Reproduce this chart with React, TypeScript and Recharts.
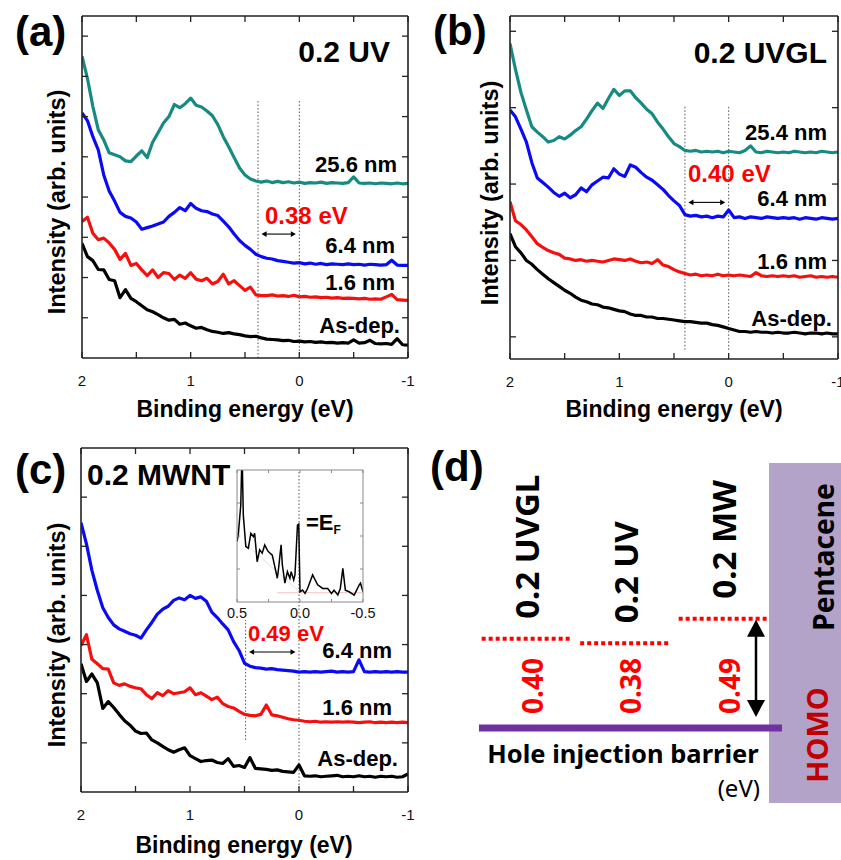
import React from 'react';
import {
  LineChart,
  Line,
  XAxis,
  YAxis,
  ReferenceLine,
  ComposedChart,
  ReferenceArea,
  ReferenceDot,
} from 'recharts';

const FONT = "'Liberation Sans', Arial, Helvetica, sans-serif";
const KFONT = "'Noto Sans', 'Noto Sans CJK KR', sans-serif";

// Binding energy grid (eV)
const energies = [
  2.0, 1.95, 1.9, 1.85, 1.8, 1.75, 1.7, 1.65, 1.6, 1.55,
  1.5, 1.45, 1.4, 1.35, 1.3, 1.25, 1.2, 1.15, 1.1, 1.05,
  1.0, 0.95, 0.9, 0.85, 0.8, 0.75, 0.7, 0.65, 0.6, 0.55,
  0.5, 0.45, 0.4, 0.35, 0.3, 0.25, 0.2, 0.15, 0.1, 0.05,
  0.0, -0.05, -0.1, -0.15, -0.2, -0.25, -0.3, -0.35, -0.4, -0.45,
  -0.5, -0.55, -0.6, -0.65, -0.7, -0.75, -0.8, -0.85, -0.9, -0.95,
  -1.0,
];

// (a) 0.2 UV
const uv256 = [
  7.5, 6.95, 6.25, 5.67, 5.42, 5.1, 5.05, 5.0, 4.9, 4.88,
  5.02, 5.15, 4.98, 5.36, 5.6, 5.84, 6.0, 6.3, 6.22, 6.32,
  6.46, 6.28, 6.24, 6.14, 6.02, 5.8, 5.5, 5.25, 4.98, 4.72,
  4.55, 4.45, 4.4, 4.37, 4.4, 4.36, 4.39, 4.36, 4.38, 4.35,
  4.37, 4.34, 4.36, 4.35, 4.37, 4.34, 4.36, 4.35, 4.34, 4.36,
  4.5, 4.35, 4.34, 4.35, 4.33, 4.35, 4.34, 4.33, 4.35, 4.33,
  4.34,
];
const uv64 = [
  6.09, 5.9, 5.5, 5.17, 4.55, 4.15, 3.9, 3.62, 3.52, 3.48,
  3.38, 3.2, 3.24, 3.28, 3.33, 3.38, 3.52, 3.62, 3.74, 3.66,
  3.84, 3.72, 3.66, 3.64, 3.58, 3.54, 3.4, 3.26, 3.08, 2.92,
  2.8, 2.7, 2.58, 2.52, 2.48, 2.46, 2.42, 2.4, 2.38, 2.36,
  2.37, 2.34, 2.36, 2.33, 2.35, 2.32, 2.34, 2.33, 2.32, 2.34,
  2.32, 2.33, 2.31, 2.33, 2.32, 2.31, 2.32, 2.43, 2.31, 2.3,
  2.3,
];
const uv16 = [
  3.39, 3.5, 3.1, 2.94, 2.98, 2.86, 2.7, 2.45, 2.6, 2.3,
  2.35, 2.19, 2.05, 2.19, 2.0, 2.12, 2.1, 1.95, 2.06, 1.98,
  2.12, 1.96, 1.92, 1.98, 1.84, 1.9, 2.08, 1.84, 1.92, 1.8,
  1.68, 1.76, 1.57, 1.55, 1.55, 1.57, 1.54, 1.55, 1.53, 1.56,
  1.52, 1.53, 1.51, 1.52, 1.5, 1.51, 1.49, 1.5, 1.48, 1.49,
  1.48, 1.47, 1.48, 1.46, 1.47, 1.46, 1.52, 1.58, 1.45, 1.44,
  1.43,
];
const uvAsDep = [
  2.85, 2.52, 2.42, 2.2, 2.19, 1.95, 1.92, 1.5, 1.7, 1.48,
  1.4, 1.3, 1.2, 1.15, 1.08, 1.0, 0.94, 0.96, 0.84, 0.87,
  0.8, 0.74, 0.76, 0.7, 0.66, 0.64, 0.61, 0.63, 0.6, 0.58,
  0.55, 0.53, 0.54, 0.5, 0.47, 0.46, 0.45, 0.43, 0.44, 0.41,
  0.42, 0.4, 0.41, 0.39, 0.4, 0.38, 0.39, 0.37, 0.38, 0.37,
  0.45, 0.37, 0.38, 0.44, 0.36, 0.35, 0.36, 0.34, 0.48, 0.33,
  0.32,
];

// (b) 0.2 UVGL
const uvgl254 = [
  4.84, 4.5, 4.2, 3.97, 3.75, 3.68, 3.62, 3.55, 3.57, 3.62,
  3.59, 3.64, 3.7, 3.75, 3.85, 3.96, 4.06, 3.99, 4.12, 4.24,
  4.16, 4.22, 4.22, 4.13, 4.06, 3.98, 3.92, 3.81, 3.72, 3.62,
  3.53, 3.49, 3.44, 3.43, 3.44, 3.42, 3.43, 3.42, 3.43, 3.41,
  3.43, 3.42, 3.41, 3.44, 3.5, 3.42, 3.41, 3.43, 3.42, 3.41,
  3.42, 3.41, 3.43, 3.42, 3.41, 3.42, 3.41, 3.43, 3.42, 3.41,
  3.42,
];
const uvgl64 = [
  3.97, 3.88, 3.72, 3.55, 3.28, 3.08, 3.02, 2.96, 2.89, 2.84,
  2.88, 2.82, 2.86, 2.95, 2.9, 2.99, 3.04, 3.09, 3.08, 3.2,
  3.13, 3.1, 3.25, 3.22, 3.15, 3.09, 3.05, 2.99, 2.93, 2.85,
  2.78, 2.72, 2.6, 2.58, 2.59, 2.57, 2.58, 2.56, 2.58, 2.57,
  2.66, 2.56, 2.57, 2.55, 2.57, 2.56, 2.55, 2.57, 2.56, 2.55,
  2.56, 2.55, 2.56, 2.54, 2.56, 2.55, 2.54, 2.56, 2.55, 2.54,
  2.55,
];
const uvgl16 = [
  2.77, 2.52, 2.47, 2.4, 2.31, 2.22, 2.17, 2.13, 2.1, 2.08,
  2.03, 2.02, 2.0, 2.01, 1.99, 2.0, 1.99, 1.98, 2.0, 2.02,
  2.01, 2.0, 2.02, 1.99, 1.97, 1.98, 1.96, 2.01, 1.94, 1.92,
  1.88, 1.85, 1.83, 1.81, 1.82, 1.8, 1.81, 1.8, 1.82, 1.8,
  1.81, 1.8, 1.81, 1.8, 1.79, 1.84, 1.8, 1.79, 1.8, 1.79,
  1.8, 1.79, 1.8, 1.78, 1.79, 1.8, 1.78, 1.79, 1.78, 1.79,
  1.78,
];
const uvglAsDep = [
  2.35, 2.18, 2.1, 2.0, 1.95, 1.88, 1.82, 1.76, 1.71, 1.66,
  1.61, 1.57, 1.52, 1.48, 1.46, 1.43, 1.42, 1.39, 1.38, 1.36,
  1.34, 1.33, 1.3, 1.28, 1.28, 1.26, 1.26, 1.24, 1.24, 1.23,
  1.22, 1.21, 1.2, 1.2, 1.19, 1.18, 1.18, 1.16, 1.15, 1.13,
  1.11, 1.09, 1.07, 1.07, 1.06, 1.07, 1.06, 1.06, 1.05, 1.06,
  1.05, 1.05, 1.06, 1.05, 1.04, 1.05, 1.05, 1.04, 1.05, 1.04,
  1.04,
];

// (c) 0.2 MWNT
const mw64 = [
  5.48, 5.05, 4.51, 4.1, 3.75, 3.55, 3.4, 3.32, 3.27, 3.22,
  3.19, 3.13, 3.3, 3.45, 3.62, 3.72, 3.78, 3.9, 3.95, 3.91,
  4.0, 3.94, 3.97, 3.88, 3.66, 3.55, 3.42, 3.3, 3.06, 2.88,
  2.62, 2.56, 2.53, 2.52, 2.5, 2.51, 2.49, 2.48, 2.47, 2.46,
  2.44, 2.45, 2.44, 2.45, 2.44, 2.45, 2.46, 2.44, 2.45, 2.44,
  2.45, 2.69, 2.45, 2.44, 2.45, 2.44, 2.45, 2.44, 2.45, 2.44,
  2.44,
];
const mw16 = [
  2.98, 3.2, 2.7, 2.61, 2.51, 2.5, 2.22, 2.17, 2.2, 2.15,
  2.12, 2.1, 1.98, 1.9, 2.02, 1.96, 2.06, 2.0, 2.02, 2.04,
  2.12, 1.98, 2.02, 1.95, 1.88, 1.93, 1.8, 1.74, 1.71, 1.64,
  1.58, 1.56, 1.55, 1.58, 1.77, 1.57, 1.55, 1.52, 1.49, 1.47,
  1.46, 1.44, 1.43, 1.44, 1.42, 1.43, 1.42, 1.43, 1.42, 1.43,
  1.42, 1.41, 1.42, 1.43, 1.41, 1.42, 1.41, 1.42, 1.41, 1.42,
  1.41,
];
const mwAsDep = [
  2.61, 2.25, 2.4, 2.22, 1.7, 1.84, 1.72, 1.58, 1.45, 1.36,
  1.24, 1.19, 1.2, 1.06, 1.0, 0.93, 0.86, 0.81, 0.86, 0.9,
  0.74, 0.68, 0.62, 0.64, 0.65, 0.6, 0.58, 0.68, 0.52, 0.54,
  0.5, 0.7, 0.48, 0.47, 0.46, 0.44, 0.45, 0.42, 0.41, 0.4,
  0.55, 0.33, 0.32, 0.33, 0.31, 0.32, 0.33, 0.34, 0.31, 0.32,
  0.31, 0.33, 0.31, 0.32, 0.3, 0.32, 0.31, 0.32, 0.3, 0.31,
  0.37,
];

// Inset (0.2 MWNT, 6.4 nm near E_F)
const insetE = [
  0.5, 0.49, 0.47, 0.46, 0.45, 0.43, 0.41, 0.39, 0.37, 0.36,
  0.34, 0.32, 0.3, 0.28, 0.26, 0.25, 0.22, 0.2, 0.18, 0.17,
  0.15, 0.14, 0.12, 0.1, 0.08, 0.07, 0.05, 0.04, 0.02, 0.01,
  0.0, -0.02, -0.04, -0.06, -0.1, -0.14, -0.18, -0.22, -0.25, -0.27,
  -0.3, -0.32, -0.34, -0.36, -0.39, -0.43, -0.47, -0.48, -0.5,
];
const insetI = [
  1.83, 2.03, 2.94, 4.6, 2.64, 1.68, 1.63, 2.08, 1.98, 2.08,
  1.22, 1.58, 1.48, 1.73, 1.58, 1.52, 1.42, 1.07, 0.72, 1.02,
  1.73, 1.12, 0.57, 0.92, 0.72, 0.92, 0.67, 0.82, 2.33, 2.36,
  0.31, 0.36, 0.26, 0.41, 0.82, 0.52, 0.41, 0.41, 0.26, 0.36,
  0.21, 0.41, 1.02, 0.36, 0.31, 0.21, 0.52, 0.57, 0.31,
];

// (d) hole injection barriers
const barrierNames = ['0.2 UVGL', '0.2 UV', '0.2 MW'];
const barriers = [0.4, 0.38, 0.49];

const xTicks = [2, 1.5, 1, 0.5, 0, -0.5, -1];
const insetTicks = [0.5, 0.25, 0, -0.25, -0.5];
const fmtX = (v: number) => (Number.isInteger(v) ? String(v) : '');
const fmtInset = (v: number) => (Math.abs(v) === 0.25 ? '' : v.toFixed(1));

const rowsA = energies.map((E, i) => ({ E, a0: uvAsDep[i], a1: uv16[i], a2: uv64[i], a3: uv256[i] }));
const rowsB = energies.map((E, i) => ({ E, a0: uvglAsDep[i], a1: uvgl16[i], a2: uvgl64[i], a3: uvgl254[i] }));
const rowsC = energies.map((E, i) => ({ E, a0: mwAsDep[i], a1: mw16[i], a2: mw64[i] }));
const insetRows = insetE.map((E, i) => ({ E, I: insetI[i] }));
const levelRows = barriers.map((v, i) => ({ i, v }));

const TEAL = '#178a82';
const BLUE = '#0a0af5';
const RED = '#f51010';

// Inward tick marks drawn through the axis tick renderer (tickSize=0, tickMargin=0 -> x,y on the axis line)
type Dir = 'up' | 'down' | 'left' | 'right';
const mkTick =
  (dir: Dir, len: number, stroke: string, width: number, label?: { fmt: (v: number) => string; dy: number; size: number }) =>
  (p: any) => {
    const x = p.x;
    const y = p.y;
    const dx = dir === 'left' ? -len : dir === 'right' ? len : 0;
    const dyy = dir === 'up' ? -len : dir === 'down' ? len : 0;
    const v = p.payload ? p.payload.value : 0;
    return (
      <g>
        <line x1={x} y1={y} x2={x + dx} y2={y + dyy} stroke={stroke} strokeWidth={width} />
        {label ? (
          <text
            x={x}
            y={y + label.dy}
            textAnchor="middle"
            dominantBaseline="central"
            fontSize={label.size}
            fontFamily={FONT}
            fill="#111"
          >
            {label.fmt(v)}
          </text>
        ) : null}
      </g>
    );
  };

function HArrow(props: any) {
  const { x1, y1, x2 } = props;
  const l = Math.min(x1, x2) + 3.5;
  const r = Math.max(x1, x2) - 3.5;
  const y = y1;
  const h = 5;
  const w = 2.8;
  return (
    <g>
      <line x1={l + h - 1} y1={y} x2={r - h + 1} y2={y} stroke="#000" strokeWidth={1.1} />
      <polygon points={`${l},${y} ${l + h},${y - w} ${l + h},${y + w}`} fill="#000" />
      <polygon points={`${r},${y} ${r - h},${y - w} ${r - h},${y + w}`} fill="#000" />
    </g>
  );
}

function VArrow(props: any) {
  const { x1, y1, y2 } = props;
  const t = Math.min(y1, y2) + 1;
  const b = Math.max(y1, y2) - 11;
  const x = x1;
  const h = 17;
  const w = 9;
  return (
    <g>
      <line x1={x} y1={t + h - 2} x2={x} y2={b - h + 2} stroke="#000" strokeWidth={2.5} />
      <polygon points={`${x},${t} ${x - w},${t + h} ${x + w},${t + h}`} fill="#000" />
      <polygon points={`${x},${b} ${x - w},${b - h} ${x + w},${b - h}`} fill="#000" />
    </g>
  );
}

const rotLabel = (text: string, color: string, size: number, dx: number, dy: number) => (p: any) => {
  const vb = p.viewBox || {};
  const x = (vb.x ?? 0) + (vb.width ?? 0) / 2 + dx;
  const y = (vb.y ?? 0) + (vb.height ?? 0) / 2 + dy;
  return (
    <text
      transform={`translate(${x},${y}) rotate(-90)`}
      textAnchor="start"
      dominantBaseline="central"
      fill={color}
      fontSize={size}
      fontWeight="bold"
      fontFamily={KFONT}
    >
      {text}
    </text>
  );
};

type SeriesDef = { key: string; color: string };

const AX = { stroke: '#222', strokeWidth: 1.6 };

function Spectrum(props: {
  left: number;
  top: number;
  width: number;
  height: number;
  margin: { top: number; right: number; bottom: number; left: number };
  rows: any[];
  series: SeriesDef[];
  yDomain: [number, number];
  yTicks: number[];
  barrier: number;
  dotLo: number;
  dotHi: number;
  zeroLo: number;
  zeroHi: number;
  arrowY: number;
}) {
  return (
    <div style={{ position: 'absolute', left: props.left, top: props.top }}>
      <LineChart width={props.width} height={props.height} data={props.rows} margin={props.margin}>
        <XAxis
          xAxisId="b"
          type="number"
          dataKey="E"
          domain={[-1, 2]}
          reversed
          allowDataOverflow
          ticks={xTicks}
          interval={0}
          height={1}
          tickSize={0}
          tickMargin={0}
          axisLine={AX}
          tickLine={false}
          tick={mkTick('up', 6, '#222', 1.3, { fmt: fmtX, dy: 22, size: 15 })}
        />
        <XAxis
          xAxisId="t"
          orientation="top"
          type="number"
          dataKey="E"
          domain={[-1, 2]}
          reversed
          allowDataOverflow
          ticks={xTicks}
          interval={0}
          height={1}
          tickSize={0}
          tickMargin={0}
          axisLine={AX}
          tickLine={false}
          tick={mkTick('down', 6, '#222', 1.3)}
        />
        <YAxis
          yAxisId="l"
          type="number"
          domain={props.yDomain}
          allowDataOverflow
          ticks={props.yTicks}
          interval={0}
          width={1}
          tickSize={0}
          tickMargin={0}
          axisLine={AX}
          tickLine={false}
          tick={mkTick('right', 6, '#222', 1.3)}
        />
        <YAxis
          yAxisId="r"
          orientation="right"
          type="number"
          domain={props.yDomain}
          allowDataOverflow
          ticks={props.yTicks}
          interval={0}
          width={1}
          tickSize={0}
          tickMargin={0}
          axisLine={AX}
          tickLine={false}
          tick={mkTick('left', 6, '#222', 1.3)}
        />
        <ReferenceLine
          xAxisId="b"
          yAxisId="l"
          segment={[
            { x: props.barrier, y: props.dotLo },
            { x: props.barrier, y: props.dotHi },
          ]}
          stroke="#555"
          strokeWidth={1}
          strokeDasharray="1.5 2"
        />
        <ReferenceLine
          xAxisId="b"
          yAxisId="l"
          segment={[
            { x: 0, y: props.zeroLo },
            { x: 0, y: props.zeroHi },
          ]}
          stroke="#555"
          strokeWidth={1}
          strokeDasharray="1.5 2"
        />
        {props.series.map((s) => (
          <Line
            key={s.key}
            xAxisId="b"
            yAxisId="l"
            type="linear"
            dataKey={s.key}
            stroke={s.color}
            strokeWidth={3.2}
            strokeLinejoin="round"
            dot={false}
            activeDot={false}
            isAnimationActive={false}
          />
        ))}
        <ReferenceLine
          xAxisId="b"
          yAxisId="l"
          segment={[
            { x: props.barrier, y: props.arrowY },
            { x: 0, y: props.arrowY },
          ]}
          shape={HArrow}
        />
      </LineChart>
    </div>
  );
}

function T(p: {
  x: number;
  y: number;
  size: number;
  anchor?: 'start' | 'middle' | 'end';
  color?: string;
  weight?: string | number;
  rotate?: boolean;
  family?: string;
  children: React.ReactNode;
}) {
  return (
    <text
      transform={`translate(${p.x},${p.y})${p.rotate ? ' rotate(-90)' : ''}`}
      textAnchor={p.anchor || 'start'}
      dominantBaseline="central"
      fontSize={p.size}
      fontWeight={p.weight ?? 'bold'}
      fill={p.color || '#000'}
      fontFamily={p.family || FONT}
    >
      {p.children}
    </text>
  );
}

export default function App() {
  const four: SeriesDef[] = [
    { key: 'a0', color: '#000' },
    { key: 'a1', color: RED },
    { key: 'a2', color: BLUE },
    { key: 'a3', color: TEAL },
  ];
  const three: SeriesDef[] = four.slice(0, 3);
  const IAX = { stroke: '#888', strokeWidth: 1 };
  return (
    <div
      style={{
        position: 'absolute',
        left: 0,
        top: 0,
        width: 841,
        height: 860,
        background: '#fff',
        overflow: 'hidden',
      }}
    >
      <Spectrum
        left={0}
        top={0}
        width={420}
        height={420}
        margin={{ top: 15, right: 11, bottom: 61, left: 81 }}
        rows={rowsA}
        series={four}
        yDomain={[0, 8.5]}
        yTicks={[1, 2, 3, 4, 5, 6, 7, 8]}
        barrier={barriers[1]}
        dotLo={0}
        dotHi={6.42}
        zeroLo={0}
        zeroHi={6.42}
        arrowY={3.08}
      />
      <Spectrum
        left={420}
        top={0}
        width={421}
        height={420}
        margin={{ top: 15, right: 2, bottom: 60, left: 89 }}
        rows={rowsB}
        series={four}
        yDomain={[0.71, 5.2]}
        yTicks={[1, 2, 3, 4, 5]}
        barrier={barriers[0]}
        dotLo={0.83}
        dotHi={4.02}
        zeroLo={0.83}
        zeroHi={4.02}
        arrowY={2.76}
      />
      <Spectrum
        left={0}
        top={420}
        width={420}
        height={440}
        margin={{ top: 27, right: 11, bottom: 67, left: 80 }}
        rows={rowsC}
        series={three}
        yDomain={[0, 7]}
        yTicks={[1, 2, 3, 4, 5, 6]}
        barrier={barriers[2]}
        dotLo={1.06}
        dotHi={3.5}
        zeroLo={0}
        zeroHi={6.54}
        arrowY={2.85}
      />

      {/* inset */}
      <div style={{ position: 'absolute', left: 217, top: 465 }}>
        <LineChart width={166} height={160} data={insetRows} margin={{ top: 4, right: 19, bottom: 22, left: 19 }}>
          <XAxis
            xAxisId="b"
            type="number"
            dataKey="E"
            domain={[-0.5, 0.5]}
            reversed
            allowDataOverflow
            ticks={insetTicks}
            interval={0}
            height={1}
            tickSize={0}
            tickMargin={0}
            axisLine={IAX}
            tickLine={false}
            tick={mkTick('up', 3, '#888', 1, { fmt: fmtInset, dy: 11, size: 14.5 })}
          />
          <XAxis
            xAxisId="t"
            orientation="top"
            type="number"
            dataKey="E"
            domain={[-0.5, 0.5]}
            reversed
            allowDataOverflow
            ticks={insetTicks}
            interval={0}
            height={1}
            tickSize={0}
            tickMargin={0}
            axisLine={IAX}
            tickLine={false}
            tick={mkTick('down', 3, '#888', 1)}
          />
          <YAxis
            yAxisId="l"
            type="number"
            domain={[0, 4]}
            allowDataOverflow
            ticks={[1, 2, 3]}
            interval={0}
            width={1}
            tickSize={0}
            tickMargin={0}
            axisLine={IAX}
            tickLine={false}
            tick={mkTick('right', 3, '#888', 1)}
          />
          <YAxis
            yAxisId="r"
            orientation="right"
            type="number"
            domain={[0, 4]}
            allowDataOverflow
            ticks={[1, 2, 3]}
            interval={0}
            width={1}
            tickSize={0}
            tickMargin={0}
            axisLine={IAX}
            tickLine={false}
            tick={mkTick('left', 3, '#888', 1)}
          />
          <ReferenceLine
            xAxisId="b"
            yAxisId="l"
            segment={[
              { x: 0.43, y: 1.75 },
              { x: 0.0, y: 0.3 },
            ]}
            stroke="#e2e2e2"
            strokeWidth={1}
          />
          <ReferenceLine
            xAxisId="b"
            yAxisId="l"
            segment={[
              { x: 0.18, y: 0.28 },
              { x: -0.5, y: 0.28 },
            ]}
            stroke="#f3c2c2"
            strokeWidth={1}
          />
          <Line
            xAxisId="b"
            yAxisId="l"
            type="linear"
            dataKey="I"
            stroke="#000"
            strokeWidth={1.5}
            dot={false}
            activeDot={false}
            isAnimationActive={false}
          />
        </LineChart>
      </div>

      {/* (d) energy diagram */}
      <div style={{ position: 'absolute', left: 420, top: 420 }}>
        <ComposedChart width={421} height={440} data={levelRows} margin={{ top: 0, right: 0, bottom: 0, left: 0 }}>
          <XAxis type="number" dataKey="i" domain={[-1.086, 3.188]} allowDataOverflow hide />
          <YAxis type="number" domain={[-0.592, 1.381]} allowDataOverflow hide />
          <ReferenceArea x1={2.457} x2={3.188} y1={-0.336} y2={1.188} fill="#b3a3c8" fillOpacity={1} stroke="none" />
          <ReferenceLine
            segment={[
              { x: -0.487, y: 0 },
              { x: 2.589, y: 0 },
            ]}
            stroke="#7030a0"
            strokeWidth={7}
          />
          {barriers.map((v, i) => (
            <ReferenceLine
              key={'lv' + i}
              segment={[
                { x: i - 0.46, y: v },
                { x: i + 0.46, y: v },
              ]}
              stroke="#ff0000"
              strokeWidth={4}
              strokeDasharray="4 3"
            />
          ))}
          {barriers.map((v, i) => (
            <ReferenceDot
              key={'nm' + i}
              x={i}
              y={v}
              r={0}
              stroke="none"
              fill="none"
              label={rotLabel(barrierNames[i], '#000', 33, 0, -20)}
            />
          ))}
          {barriers.map((v, i) => (
            <ReferenceDot
              key={'vl' + i}
              x={i}
              y={0}
              r={0}
              stroke="none"
              fill="none"
              label={rotLabel(v.toFixed(2), '#ff0000', 28, 5, -14)}
            />
          ))}
          <ReferenceLine
            segment={[
              { x: 2.325, y: barriers[2] },
              { x: 2.325, y: 0 },
            ]}
            shape={VArrow}
          />
          <Line dataKey="v" stroke="none" dot={false} activeDot={false} isAnimationActive={false} />
        </ComposedChart>
      </div>

      {/* text overlay */}
      <svg width={841} height={860} style={{ position: 'absolute', left: 0, top: 0, pointerEvents: 'none' }}>
        {/* (a) */}
        <T x={15} y={31} size={42}>(a)</T>
        <T x={390} y={51} size={30} anchor="end">0.2 UV</T>
        <T x={397} y={164} size={22} anchor="end">25.6 nm</T>
        <T x={265} y={215} size={24} color="#ff0000">0.38 eV</T>
        <T x={395} y={245} size={22} anchor="end">6.4 nm</T>
        <T x={395} y={282} size={22} anchor="end">1.6 nm</T>
        <T x={400} y={325} size={22} anchor="end">As-dep.</T>
        <T x={245} y={409} size={23} anchor="middle">Binding energy (eV)</T>
        <T x={57} y={202} size={23.5} anchor="middle" rotate>Intensity (arb. units)</T>

        {/* (b) */}
        <T x={433} y={30} size={42}>(b)</T>
        <T x={827} y={52} size={30} anchor="end">0.2 UVGL</T>
        <T x={827} y={132} size={22} anchor="end">25.4 nm</T>
        <T x={688} y={173} size={24} color="#ff0000">0.40 eV</T>
        <T x={827} y={198} size={22} anchor="end">6.4 nm</T>
        <T x={827} y={261} size={22} anchor="end">1.6 nm</T>
        <T x={832} y={318} size={22} anchor="end">As-dep.</T>
        <T x={674} y={409} size={23} anchor="middle">Binding energy (eV)</T>
        <T x={490} y={193} size={23.5} anchor="middle" rotate>Intensity (arb. units)</T>

        {/* (c) */}
        <T x={15} y={469} size={42}>(c)</T>
        <T x={87} y={474} size={30}>0.2 MWNT</T>
        <text x={306} y={522} dominantBaseline="central" fontSize={22} fontWeight="bold" fontFamily={FONT}>
          =E
          <tspan fontSize={12} dy={8}>F</tspan>
        </text>
        <T x={248} y={633} size={22} color="#ff0000">0.49 eV</T>
        <T x={392} y={650} size={22} anchor="end">6.4 nm</T>
        <T x={392} y={707} size={22} anchor="end">1.6 nm</T>
        <T x={398} y={758} size={22} anchor="end">As-dep.</T>
        <T x={244} y={845} size={23} anchor="middle">Binding energy (eV)</T>
        <T x={57} y={635} size={23.5} anchor="middle" rotate>Intensity (arb. units)</T>

        {/* (d) */}
        <T x={430} y={466} size={42}>(d)</T>
        <T x={823} y={557} size={28} anchor="middle" rotate family={KFONT}>Pentacene</T>
        <T x={816} y={735} size={29} anchor="middle" rotate color="#c00000" family={KFONT}>HOMO</T>
        <T x={623} y={753} size={25.5} anchor="middle" family={KFONT}>Hole injection barrier</T>
        <T x={760} y={787} size={24} anchor="end" weight="normal" family={KFONT}>(eV)</T>
      </svg>
    </div>
  );
}
